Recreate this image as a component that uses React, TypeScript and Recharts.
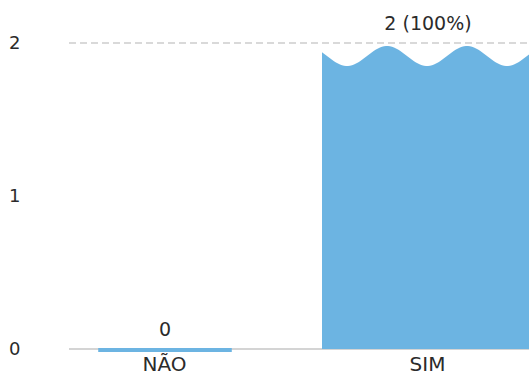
import { BarChart, Bar, XAxis, YAxis, ReferenceLine, LabelList } from 'recharts'

const categories = ['NÃO', 'SIM']
const counts = [0, 2]
const yTicks = [0, 1, 2]

const total = counts.reduce((a, b) => a + b, 0)
const chartData = categories.map((name, i) => ({ name, value: counts[i] }))

const BAR_COLOR = '#6cb4e2'
const TEXT_COLOR = '#2b2b2b'
const FONT = '"DejaVu Sans", sans-serif'

function WavyBar(props: any) {
  const { x, y, width, height, fill } = props
  if (!height || height <= 0) {
    const w = width * 0.63
    return <rect x={x + (width - w) / 2} y={y - 1} width={w} height={4} fill={fill} />
  }
  const bottom = y + height
  let d = `M${x},${bottom}`
  for (let t = 0; t <= width; t += 2) {
    const wy = y + 13 + 10 * Math.cos((2 * Math.PI * (t - 25)) / 80)
    d += ` L${x + t},${wy.toFixed(2)}`
  }
  d += ` L${x + width},${bottom} Z`
  return <path d={d} fill={fill} />
}

function ValueLabel(props: any) {
  const { x, y, width, value } = props
  const text = value > 0 ? `${value} (${Math.round((value / total) * 100)}%)` : `${value}`
  return (
    <text x={x + width / 2} y={y - 13} textAnchor="middle" fontSize={19} fill={TEXT_COLOR} fontFamily={FONT}>
      {text}
    </text>
  )
}

function YTick(props: any) {
  const { y, payload } = props
  return (
    <text x={9} y={y} dy="0.35em" textAnchor="start" fontSize={18} fill={TEXT_COLOR} fontFamily={FONT}>
      {payload.value}
    </text>
  )
}

export default function App() {
  return (
    <div style={{ position: 'absolute', left: 0, top: 0, width: 529, height: 382, overflow: 'hidden', background: '#fff' }}>
      <BarChart
        width={559}
        height={382}
        data={chartData}
        margin={{ top: 43, right: 0, bottom: 0, left: 0 }}
      >
        <ReferenceLine y={2} stroke="#d9d9d9" strokeWidth={2} strokeDasharray="7 4" />
        <XAxis
          dataKey="name"
          padding={{ left: -36, right: 0 }}
          height={33}
          tickLine={false}
          axisLine={{ stroke: '#d4d4d4', strokeWidth: 2 }}
          tick={{ fontSize: 20, fill: TEXT_COLOR, fontFamily: FONT }}
          interval={0}
        />
        <YAxis
          width={69}
          domain={[0, 2]}
          ticks={yTicks}
          axisLine={false}
          tickLine={false}
          tick={<YTick />}
        />
        <Bar
          dataKey="value"
          fill={BAR_COLOR}
          barSize={212}
          shape={<WavyBar />}
          isAnimationActive={false}
          zIndex={600}
        >
          <LabelList dataKey="value" content={<ValueLabel />} />
        </Bar>
      </BarChart>
    </div>
  )
}
